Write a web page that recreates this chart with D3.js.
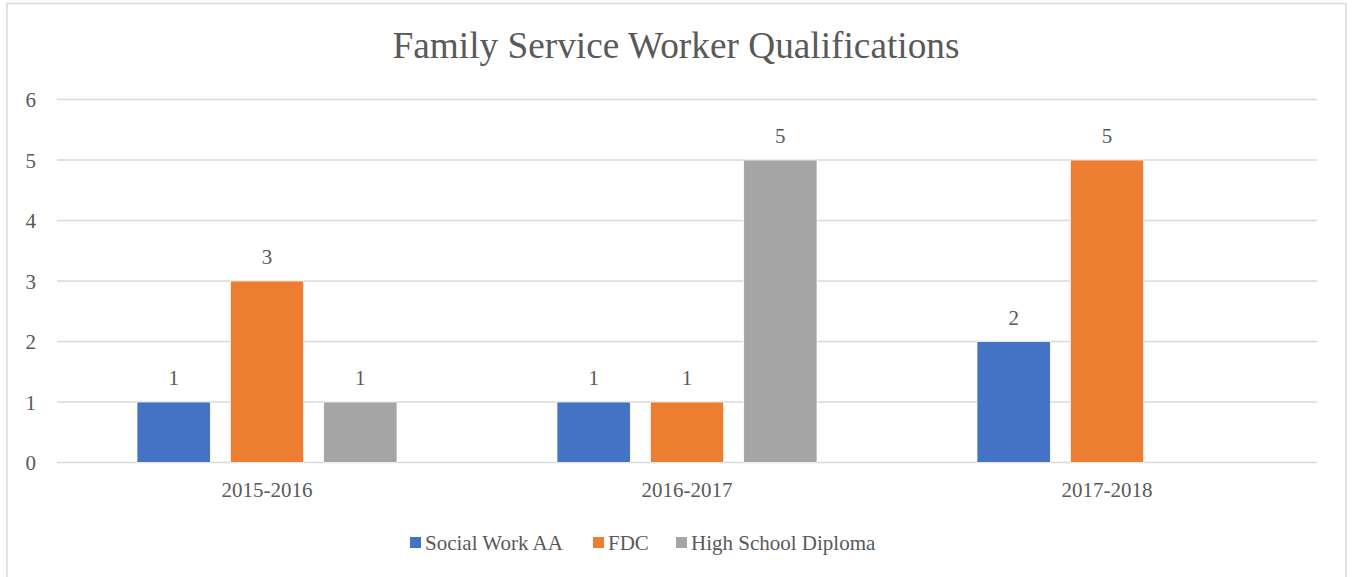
<!DOCTYPE html>
<html>
<head>
<meta charset="utf-8">
<script src="https://cdn.jsdelivr.net/npm/d3@7"></script>
<style>
  body { margin: 0; background: #fff; }
</style>
</head>
<body>
<div id="chart"></div>
<script>
// data
let years = ['2015-2016', '2016-2017', '2017-2018'];
let seriesNames = ['Social Work AA', 'FDC', 'High School Diploma'];
let socialWork = [1, 1, 2];
let fdc = [3, 1, 5];
let highSchool = [1, 5, null];
let yTicks = [0, 1, 2, 3, 4, 5, 6];
let colors = ['#4472C4', '#ED7D31', '#A5A5A5'];

let fontName = 'Liberation Serif';
let textColor = '#595959';

let svgWidth = 1352;
let svgHeight = 577;

let margin = { top: 99.5, left: 57, right: 35, bottom: 114.5 };
let width = svgWidth - margin.left - margin.right;
let height = svgHeight - margin.top - margin.bottom;

let svg = d3.select('#chart')
    .append('svg')
    .style('display', 'block')
    .attr('width', svgWidth)
    .attr('height', svgHeight);

// outer border
svg.append('rect')
    .attr('x', 7)
    .attr('y', 3.5)
    .attr('width', 1339)
    .attr('height', 590)
    .attr('fill', 'none')
    .attr('stroke', '#D9D9D9')
    .attr('stroke-width', 1.5);

// title
svg.append('text')
    .attr('x', 676)
    .attr('y', 58)
    .attr('text-anchor', 'middle')
    .attr('font-family', fontName)
    .attr('font-size', 37.3)
    .attr('fill', textColor)
    .text('Family Service Worker Qualifications');

let chartGroup = svg.append('g')
    .attr('transform', `translate(${margin.left}, ${margin.top})`);

// scales
let x0 = d3.scaleBand()
    .domain(years)
    .range([0, width]);

let x1 = d3.scaleBand()
    .domain(seriesNames)
    .range([0, x0.bandwidth()])
    .paddingInner(0.2143)
    .paddingOuter(0.857);

let y = d3.scaleLinear()
    .domain([0, 6])
    .range([height, 0]);

// gridlines
chartGroup.append('g')
    .selectAll('line')
    .data(yTicks)
    .enter()
    .append('line')
    .attr('x1', 0)
    .attr('x2', width)
    .attr('y1', d => y(d))
    .attr('y2', d => y(d))
    .attr('stroke', '#D9D9D9')
    .attr('stroke-width', 1.5);

// y axis labels
let leftAxis = d3.axisLeft(y).tickValues(yTicks).tickFormat(d3.format('d')).tickSize(0).tickPadding(21);
let yAxis = chartGroup.append('g').call(leftAxis);
yAxis.select('.domain').remove();
yAxis.selectAll('text')
    .attr('font-family', fontName)
    .attr('font-size', 21)
    .attr('fill', textColor)
    .attr('dy', '0.34em');

// x axis labels
let bottomAxis = d3.axisBottom(x0).tickSize(0).tickPadding(20);
let xAxis = chartGroup.append('g')
    .attr('transform', `translate(0, ${height})`)
    .call(bottomAxis);
xAxis.select('.domain').remove();
xAxis.selectAll('text')
    .attr('font-family', fontName)
    .attr('font-size', 21)
    .attr('fill', textColor);

// bars
let seriesData = [socialWork, fdc, highSchool];
let rows = [];
years.forEach((yr, i) => {
    seriesNames.forEach((s, j) => {
        if (seriesData[j][i] != null) {
            rows.push({ year: yr, series: s, value: seriesData[j][i], color: colors[j] });
        }
    });
});

chartGroup.selectAll('.bar')
    .data(rows)
    .enter()
    .append('rect')
    .classed('bar', true)
    .attr('x', d => x0(d.year) + x1(d.series))
    .attr('y', d => y(d.value))
    .attr('width', x1.bandwidth())
    .attr('height', d => height - y(d.value))
    .attr('fill', d => d.color)
    .attr('stroke', '#fff')
    .attr('stroke-width', 0.75);

// value labels
chartGroup.selectAll('.valueLabel')
    .data(rows)
    .enter()
    .append('text')
    .classed('valueLabel', true)
    .attr('x', d => x0(d.year) + x1(d.series) + x1.bandwidth() / 2)
    .attr('y', d => y(d.value) - 17)
    .attr('text-anchor', 'middle')
    .attr('font-family', fontName)
    .attr('font-size', 21)
    .attr('fill', textColor)
    .text(d => d.value);

// legend
let legendX = [410, 593, 676];
let legend = svg.append('g');
seriesNames.forEach((s, j) => {
    legend.append('rect')
        .attr('x', legendX[j])
        .attr('y', 537)
        .attr('width', 11)
        .attr('height', 11)
        .attr('fill', colors[j]);
    legend.append('text')
        .attr('x', legendX[j] + 15)
        .attr('y', 550)
        .attr('font-family', fontName)
        .attr('font-size', 21)
        .attr('fill', textColor)
        .text(s);
});
</script>
</body>
</html>
